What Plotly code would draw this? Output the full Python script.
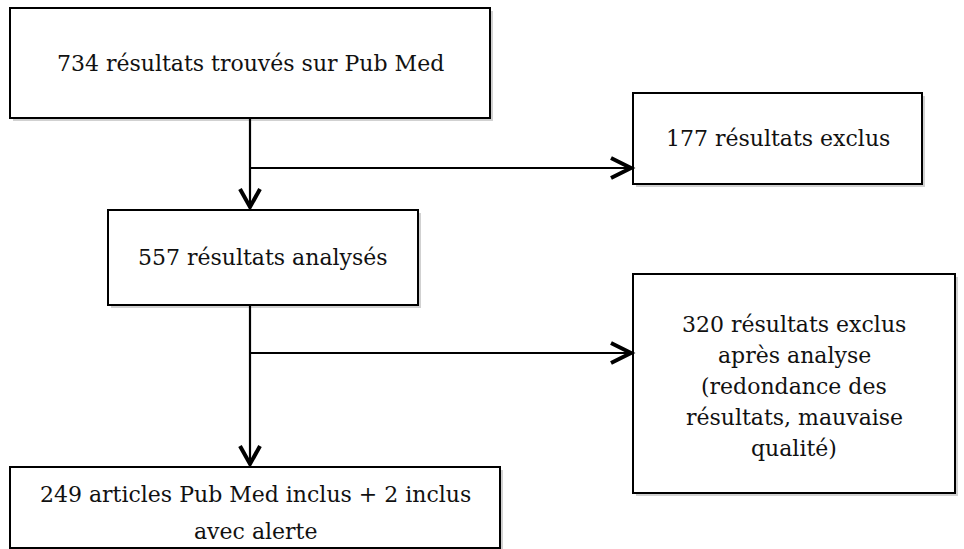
import plotly.graph_objects as go

# Flowchart content
labels = [
    "734 résultats trouvés sur Pub Med",
    "177 résultats exclus",
    "557 résultats analysés",
    "320 résultats exclus<br>après analyse<br>(redondance des<br>résultats, mauvaise<br>qualité)",
    "249 articles Pub Med inclus + 2 inclus<br>avec alerte",
]
counts = [734, 177, 557, 320, 249]

# Layout geometry (pixels, y downward): x0, y0, x1, y1, text centre y, line spacing
boxes = [
    (10, 8, 490, 118, 63, 0),
    (633, 93, 922, 184, 138, 0),
    (108, 210, 418, 305, 257, 0),
    (633, 274, 955, 493, 386, 31),
    (10, 467, 500, 548, 513, 37),
]

W, H = 964, 549
fig = go.Figure()
shapes = []
for (x0, y0, x1, y1, _, _) in boxes:
    # drop shadow
    shapes.append(dict(type="rect", x0=x0 + 3, y0=y0 + 3, x1=x1 + 3, y1=y1 + 3,
                       line=dict(width=0), fillcolor="rgba(0,0,0,0.18)", layer="below"))
    shapes.append(dict(type="rect", x0=x0, y0=y0, x1=x1, y1=y1,
                       line=dict(color="black", width=2), fillcolor="white", layer="below"))

lw = 2.2
cx = 250
# connectors
lines = [
    (cx, 118, cx, 208),
    (cx, 168, 631, 168),
    (cx, 305, cx, 465),
    (cx, 353, 631, 353),
]
for (x0, y0, x1, y1) in lines:
    shapes.append(dict(type="line", x0=x0, y0=y0, x1=x1, y1=y1,
                       line=dict(color="black", width=lw)))

# chevron heads
def down_head(x, y):
    return f"M {x-10},{y-18} L {x},{y} L {x+10},{y-18}"

def right_head(x, y):
    return f"M {x-20},{y-10} L {x},{y} L {x-20},{y+10}"

heads = [down_head(cx, 207), right_head(631, 168), down_head(cx, 464), right_head(631, 353)]
for p in heads:
    shapes.append(dict(type="path", path=p, line=dict(color="black", width=4)))

annotations = []
for lab, (x0, y0, x1, y1, yc, sp) in zip(labels, boxes):
    parts = lab.split("<br>")
    n = len(parts)
    for i, part in enumerate(parts):
        y = yc + (i - (n - 1) / 2) * sp
        annotations.append(dict(x=(x0 + x1) / 2, y=y, text=part, showarrow=False,
                                xref="x", yref="y", align="center",
                                font=dict(family="DejaVu Serif", size=22, color="#111")))

fig.update_layout(
    width=W, height=H,
    margin=dict(l=0, r=0, t=0, b=0),
    paper_bgcolor="white", plot_bgcolor="white",
    xaxis=dict(range=[0, W], visible=False, fixedrange=True),
    yaxis=dict(range=[H, 0], visible=False, fixedrange=True),
    shapes=shapes, annotations=annotations, showlegend=False,
)
fig.write_html("out.html", config={"displayModeBar": False},
               post_script="document.body.style.margin='0';document.body.style.overflow='hidden';")
